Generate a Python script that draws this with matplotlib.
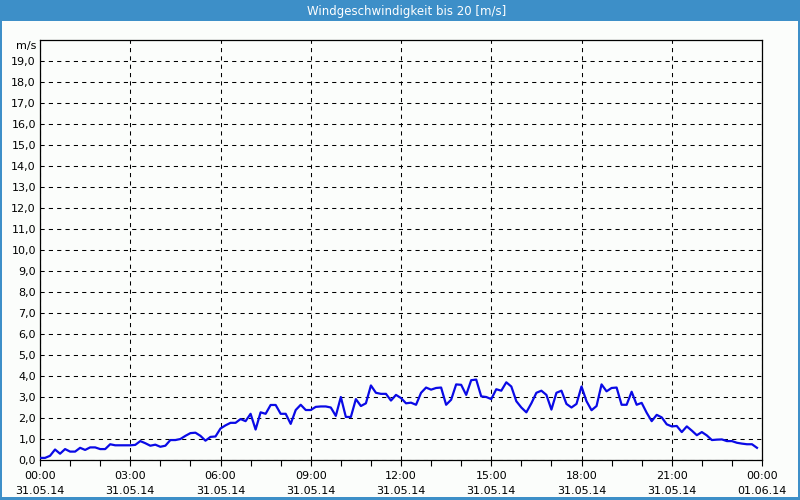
import matplotlib
matplotlib.use("Agg")
import matplotlib.pyplot as plt
from matplotlib.patches import Rectangle
import matplotlib.transforms as mtransforms

plt.rcParams["font.family"] = ["DejaVu Sans"]

title = "Windgeschwindigkeit bis 20 [m/s]"
unit = "m/s"

# 10-minute values, 00:00 .. 23:50 on 31.05.14
wind = [
    0.10, 0.10, 0.20, 0.50, 0.30, 0.52, 0.40, 0.40, 0.58, 0.48,
    0.60, 0.60, 0.52, 0.52, 0.75, 0.70, 0.70, 0.70, 0.70, 0.72,
    0.90, 0.80, 0.68, 0.73, 0.63, 0.68, 0.95, 0.95, 1.00, 1.15,
    1.28, 1.30, 1.15, 0.92, 1.10, 1.12, 1.50, 1.65, 1.77, 1.77,
    1.95, 1.85, 2.20, 1.45, 2.27, 2.20, 2.62, 2.62, 2.20, 2.20,
    1.72, 2.38, 2.63, 2.38, 2.38, 2.53, 2.55, 2.55, 2.50, 2.10,
    3.00, 2.05, 2.05, 2.90, 2.57, 2.70, 3.55, 3.20, 3.15, 3.15,
    2.83, 3.10, 2.95, 2.70, 2.73, 2.63, 3.20, 3.45, 3.35, 3.43,
    3.45, 2.63, 2.87, 3.60, 3.58, 3.10, 3.80, 3.83, 3.03, 3.00,
    2.90, 3.37, 3.30, 3.70, 3.50, 2.80, 2.50, 2.27, 2.70, 3.20,
    3.30, 3.10, 2.40, 3.20, 3.30, 2.67, 2.50, 2.67, 3.50, 2.80,
    2.37, 2.57, 3.60, 3.27, 3.43, 3.45, 2.63, 2.63, 3.25, 2.63,
    2.72, 2.25, 1.85, 2.15, 2.03, 1.70, 1.60, 1.62, 1.33, 1.60,
    1.40, 1.18, 1.33, 1.17, 0.95, 0.97, 0.98, 0.90, 0.90, 0.82,
    0.78, 0.75, 0.75, 0.58,
]
hours = [i / 6 for i in range(len(wind))]

tick_hours = [0, 3, 6, 9, 12, 15, 18, 21, 24]
tick_labels = [
    "00:00\n31.05.14", "03:00\n31.05.14", "06:00\n31.05.14",
    "09:00\n31.05.14", "12:00\n31.05.14", "15:00\n31.05.14",
    "18:00\n31.05.14", "21:00\n31.05.14", "00:00\n01.06.14",
]
y_ticks = list(range(20))
y_labels = [f"{v},0" for v in y_ticks]

bg = "#fbfdfb"
frame_blue = "#3d8fc8"

fig = plt.figure(figsize=(8, 5), dpi=100, facecolor=bg)

# title bar and blue frame
fig.patches.append(Rectangle((0, 1 - 21 / 500), 1, 21 / 500, transform=fig.transFigure,
                             facecolor=frame_blue, edgecolor="none", zorder=0))
fig.patches.append(Rectangle((0, 0), 2 / 800, 1, transform=fig.transFigure,
                             facecolor=frame_blue, edgecolor="none", zorder=0))
fig.patches.append(Rectangle((1 - 2 / 800, 0), 2 / 800, 1, transform=fig.transFigure,
                             facecolor=frame_blue, edgecolor="none", zorder=0))
fig.patches.append(Rectangle((0, 0), 1, 3 / 500, transform=fig.transFigure,
                             facecolor=frame_blue, edgecolor="none", zorder=0))
fig.text(407 / 800, 1 - 11 / 500, title, color="white", fontsize=8.5,
         ha="center", va="center")

ax = fig.add_axes([40 / 800, 40 / 500, 722 / 800, 420 / 500])
ax.set_facecolor(bg)
ax.plot(hours, wind, color="#0a0ae6", linewidth=1.6, solid_joinstyle="round", zorder=3)

ax.set_xlim(0, 24)
ax.set_ylim(0, 20)
ax.set_xticks(tick_hours)
ax.set_xticklabels(tick_labels, fontsize=8, linespacing=1.6)
ax.set_xticks(range(25), minor=True)
ax.set_yticks(y_ticks)
ax.set_yticklabels(y_labels, fontsize=8)

ax.tick_params(axis="x", which="both", direction="out", length=4, width=0.8, pad=4)
ax.tick_params(axis="y", which="both", length=0, pad=3)

ax.grid(True, which="major", color="black", linewidth=0.75, linestyle=(0, (4, 4)))
for s in ax.spines.values():
    s.set_linewidth(0.9)
    s.set_color("black")

trans = mtransforms.blended_transform_factory(ax.transAxes, ax.transData)
ax.text(-0.005, 19.7, unit, transform=trans, ha="right", va="center", fontsize=8)

fig.savefig("out.png", dpi=100, facecolor=bg)
